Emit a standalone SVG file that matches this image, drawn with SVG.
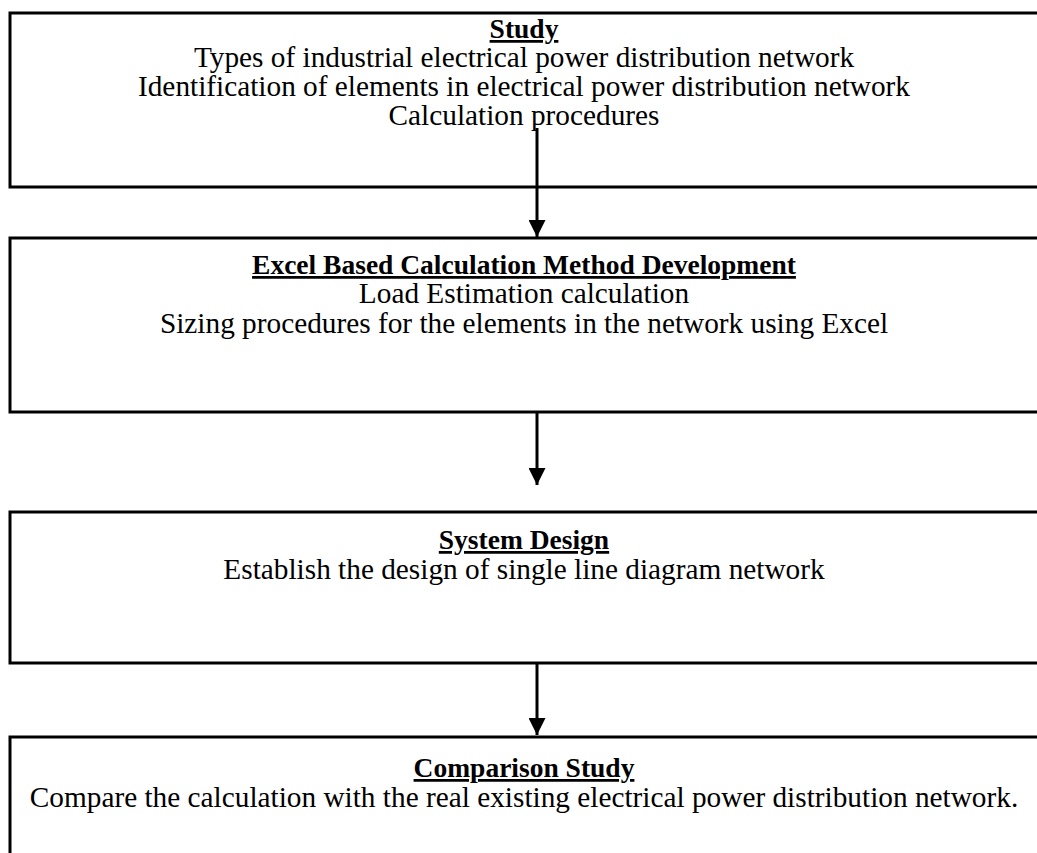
<svg xmlns="http://www.w3.org/2000/svg" width="1037" height="853" viewBox="0 0 1037 853">
<style>
.box{fill:#fff;stroke:#000;stroke-width:3}
.t{font-family:"Liberation Serif","Times New Roman",serif;font-size:29.3px;fill:#000;text-anchor:middle}
.h{font-weight:bold;font-size:27.5px;text-decoration:underline}
.c{stroke:#000;stroke-width:3;fill:none}
</style>
<defs>
<marker id="ah" viewBox="0 0 10 10" refX="10" refY="5" markerWidth="17" markerHeight="17" markerUnits="userSpaceOnUse" orient="auto">
<path d="M0,0 L10,5 L0,10 z" fill="#000"/>
</marker>
</defs>
<rect width="1037" height="853" fill="#fff"/>
<g id="study">
<rect class="box" x="10" y="13" width="1040" height="174"/>
<text class="t h" x="524" y="38">Study</text>
<text class="t" x="524" y="67">Types of industrial electrical power distribution network</text>
<text class="t" x="524" y="96">Identification of elements in electrical power distribution network</text>
<text class="t" x="524" y="125">Calculation procedures</text>
</g>
<g id="excel">
<rect class="box" x="10" y="238" width="1040" height="174"/>
<text class="t h" x="524" y="274">Excel Based Calculation Method Development</text>
<text class="t" x="524" y="303">Load Estimation calculation</text>
<text class="t" x="524" y="333">Sizing procedures for the elements in the network using Excel</text>
</g>
<g id="system">
<rect class="box" x="10" y="512" width="1040" height="151"/>
<text class="t h" x="524" y="549">System Design</text>
<text class="t" x="524" y="579">Establish the design of single line diagram network</text>
</g>
<g id="comparison">
<rect class="box" x="10" y="737" width="1040" height="130"/>
<text class="t h" x="524" y="777">Comparison Study</text>
<text class="t" x="524" y="807">Compare the calculation with the real existing electrical power distribution network.</text>
</g>
<g id="connectors">
<line class="c" x1="537" y1="128" x2="537" y2="237" marker-end="url(#ah)"/>
<line class="c" x1="537" y1="412" x2="537" y2="485" marker-end="url(#ah)"/>
<line class="c" x1="537" y1="663" x2="537" y2="735" marker-end="url(#ah)"/>
</g>
</svg>
